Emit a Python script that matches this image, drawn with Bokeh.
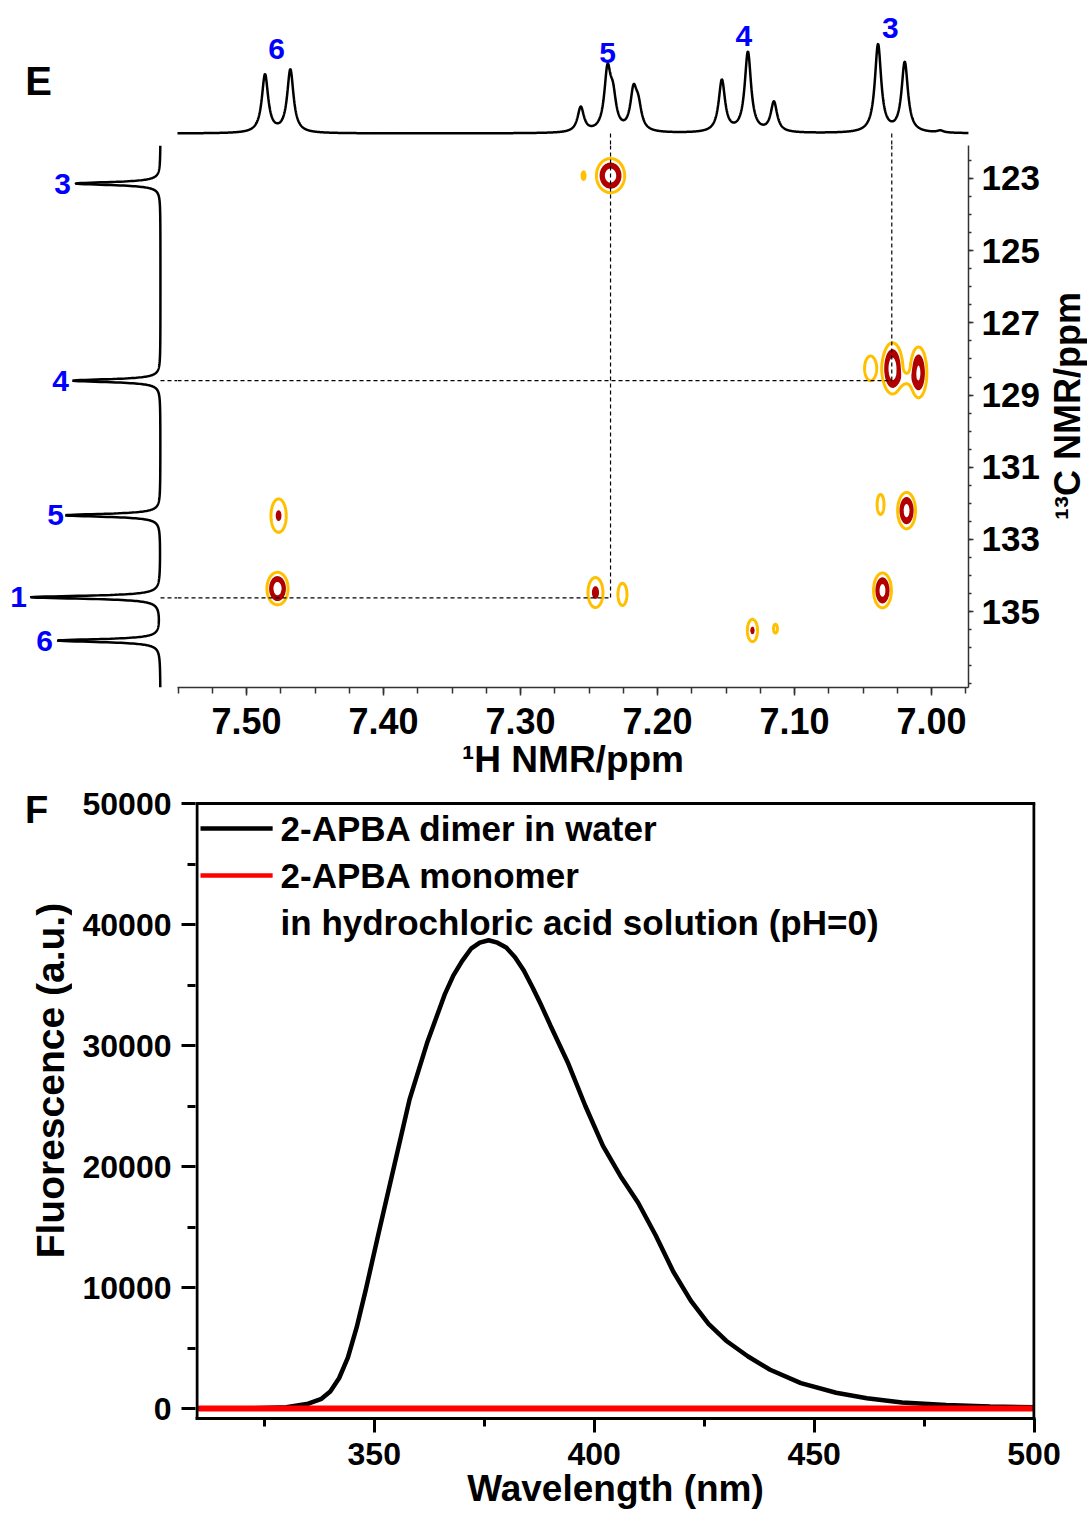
import math
import numpy as np
from bokeh.plotting import figure
from bokeh.layouts import column, row
from bokeh.models import Range1d, FixedTicker, PrintfTickFormatter
from bokeh.core.properties import value
from bokeh.embed import file_html
from bokeh.resources import INLINE

FONT = "Liberation Sans"
BLUE = "#0000FF"
ORANGE = "#FFC000"
DRED = "#B00000"

# ---------------- Panel E data ----------------
# 1H projection (top trace): peak positions (ppm) and heights (a.u.)
h1_peak_ppm = [7.4865, 7.4680, 7.2560, 7.2365, 7.2325, 7.2175, 7.2140,
               7.1530, 7.1340, 7.1150, 7.0390, 7.0195, 6.9935]
h1_peak_int = [58, 63, 25, 58, 30, 38, 22, 52, 80, 30, 88, 70, 2]
h1_label_text = ["6", "5", "4", "3"]
h1_label_ppm = [7.478, 7.2365, 7.137, 7.030]
h1_label_int = [85, 81, 98, 106]

# 13C projection (left trace)
c13_peak_ppm = [123.14, 128.60, 132.33, 134.60, 135.80]
c13_peak_int = [85, 88, 95, 130, 103]
c13_label_text = ["3", "4", "5", "1", "6"]
c13_label_int = [98, 100, 105, 142, 116]

# 2D cross peaks (1H ppm, 13C ppm, relative intensity, widths in ppm)
cross_h = [7.2343, 7.2540, 7.0285, 7.0095, 7.0445, 7.0190, 7.4766, 7.0372,
           7.0182, 7.4774, 7.2453, 7.2256, 7.0358, 7.1307, 7.1139]
cross_c = [122.92, 122.92, 128.26, 128.37, 128.26, 128.55, 132.34, 132.03,
           132.20, 134.36, 134.47, 134.52, 134.41, 135.52, 135.47]
cross_amp = [1.00, 0.12, 1.00, 0.75, 0.20, 0.13, 0.33, 0.15,
             0.90, 1.00, 0.36, 0.17, 0.90, 0.33, 0.12]
cross_sh = [0.0048, 0.0018, 0.0035, 0.0030, 0.0037, 0.0060, 0.0036, 0.0028,
            0.0031, 0.0036, 0.0034, 0.0032, 0.0031, 0.0024, 0.0024]
cross_sc = [0.22, 0.18, 0.33, 0.35, 0.29, 0.15, 0.30, 0.31,
            0.24, 0.21, 0.26, 0.30, 0.23, 0.20, 0.21]

# correlation guides (1H ppm, 13C ppm)
guide_h = [7.2343, 7.0290]
guide_c = [134.62, 128.60]

h1_ticks = [7.50, 7.40, 7.30, 7.20, 7.10, 7.00]
c13_ticks = [123, 125, 127, 129, 131, 133, 135]

# ---------------- Panel F data ----------------
wavelength = [310, 320, 330, 335, 338, 340, 342, 344, 346, 348, 351, 354.5, 358, 362, 366, 368, 370,
              372, 374, 376, 378, 380, 382, 384, 386, 388, 390, 394, 398, 402, 406, 410, 414, 418,
              422, 426, 430, 435, 440, 447, 455, 462, 470, 480, 490, 500]
dimer_water = [0, 0, 100, 400, 800, 1400, 2500, 4200, 6700, 9700, 14500, 20000, 25500, 30200, 34200, 35800, 37000,
               38000, 38500, 38700, 38500, 38100, 37300, 36200, 34800, 33300, 31700, 28600, 25000, 21700, 19200, 17000, 14300, 11300,
               8900, 7000, 5600, 4300, 3200, 2100, 1300, 850, 500, 280, 160, 100]
wavelength_mono = [310, 350, 400, 450, 500]
monomer_hcl = [0, 0, 0, 0, 0]
legend_text = ["2-APBA dimer in water", "2-APBA monomer", "in hydrochloric acid solution (pH=0)"]
legend_color = ["black", "#FF0000"]
wl_ticks = [350, 400, 450, 500]
wl_minor = [325, 375, 425, 475]
fl_ticks = [0, 10000, 20000, 30000, 40000, 50000]
fl_minor = [5000, 15000, 25000, 35000, 45000]


def style_axis(ax, tick_font, label_font, color, lw):
    ax.axis_line_color = color
    ax.axis_line_width = lw
    ax.major_tick_line_color = color
    ax.minor_tick_line_color = color
    ax.major_tick_line_width = lw
    ax.minor_tick_line_width = lw
    ax.major_tick_in = 0
    ax.minor_tick_in = 0
    ax.major_label_text_font = FONT
    ax.major_label_text_font_style = "bold"
    ax.major_label_text_font_size = tick_font
    ax.major_label_text_color = "black"
    ax.axis_label_text_font = FONT
    ax.axis_label_text_font_style = "bold"
    ax.axis_label_text_font_size = label_font
    ax.axis_label_text_color = "black"


# ---------------- Panel E figures ----------------
XH = (7.5504, 6.9730)          # 1H window of the 2D map
YC = (137.10, 122.086)         # 13C window (reversed)
H1_HWHM = 0.0028
C13_HWHM = 0.05
MID_H = 640
MID_BB = 98

yc_range = Range1d(YC[0], YC[1])

p_top = figure(width=1087, height=145, x_range=Range1d(7.6796, 6.8861), y_range=Range1d(-12, 133),
               output_backend="svg", toolbar_location=None, x_axis_location=None, y_axis_location=None,
               min_border=0, outline_line_color=None)
p_top.grid.visible = False
hx = np.linspace(XH[1], XH[0], 2900)
h_trace = np.zeros_like(hx)
for ppm, inten in zip(h1_peak_ppm, h1_peak_int):
    h_trace += inten / (1 + ((hx - ppm) / H1_HWHM) ** 2)
p_top.line(hx, h_trace, line_color="black", line_width=2.5)
p_top.text(x=h1_label_ppm, y=h1_label_int, text=h1_label_text, text_color=BLUE,
           text_font=value(FONT), text_font_style="bold", text_font_size="30px",
           text_align="center", text_baseline="middle")
p_top.text(x=[7.6518], y=[53], text=["E"], text_color="black", text_font=value(FONT),
           text_font_style="bold", text_font_size="40px", text_align="center", text_baseline="middle")
p_top.segment(x0=guide_h, y0=[0] * len(guide_h), x1=guide_h, y1=[-12] * len(guide_h),
              line_dash="4 3", line_color="black", line_width=1.2)

p_left = figure(width=177, height=MID_H, x_range=Range1d(160, -17), y_range=yc_range,
                output_backend="svg", toolbar_location=None, x_axis_location=None, y_axis_location=None,
                min_border_left=0, min_border_right=0, min_border_top=0, min_border_bottom=MID_BB,
                outline_line_color=None)
p_left.grid.visible = False
cy = np.linspace(YC[1], YC[0], 3000)
c_trace = np.zeros_like(cy)
for ppm, inten in zip(c13_peak_ppm, c13_peak_int):
    c_trace += inten / (1 + ((cy - ppm) / C13_HWHM) ** 2)
p_left.line(c_trace, cy, line_color="black", line_width=2.5)
p_left.text(x=c13_label_int, y=c13_peak_ppm, text=c13_label_text, text_color=BLUE,
            text_font=value(FONT), text_font_style="bold", text_font_size="30px",
            text_align="center", text_baseline="middle")
p_left.segment(x0=[0] * len(guide_c), y0=guide_c, x1=[-17] * len(guide_c), y1=guide_c,
               line_dash="4 3", line_color="black", line_width=1.2)

p_main = figure(width=869, height=MID_H, x_range=Range1d(XH[0], XH[1]), y_range=yc_range,
                output_backend="svg", toolbar_location=None, x_axis_location="below", y_axis_location="right",
                min_border_left=0, min_border_right=78, min_border_top=0, min_border_bottom=MID_BB,
                outline_line_color=None)
p_main.grid.visible = False

gx = np.arange(6.970, 7.553, 0.0007)
gy = np.arange(122.0, 137.2, 0.03)
GX, GY = np.meshgrid(gx, gy)
Z = np.zeros_like(GX)
for h, c, a, sh, sc in zip(cross_h, cross_c, cross_amp, cross_sh, cross_sc):
    Z += a * np.exp(-0.5 * ((GX - h) / sh) ** 2 - 0.5 * ((GY - c) / sc) ** 2)
levels = [0.1, 0.3, 0.62, 100.0]
p_main.contour(gx, gy, Z, levels,
               fill_color=[ORANGE, DRED, "white"], fill_alpha=[0.0, 1.0, 0.0],
               line_color=[ORANGE, DRED, DRED, DRED], line_alpha=[1.0, 1.0, 1.0, 0.0],
               line_width=[3.0, 1.5, 1.5, 0.0])
p_main.segment(x0=guide_h, y0=[YC[1]] * len(guide_h), x1=guide_h, y1=guide_c,
               line_dash="4 3", line_color="black", line_width=1.2)
p_main.segment(x0=[XH[0]] * len(guide_h), y0=guide_c, x1=guide_h, y1=guide_c,
               line_dash="4 3", line_color="black", line_width=1.2)

xa = p_main.xaxis[0]
xa.ticker = FixedTicker(ticks=h1_ticks, minor_ticks=[round(7.55 - 0.025 * i, 3) for i in range(24)])
xa.formatter = PrintfTickFormatter(format="%.2f")
xa.axis_label = "¹H NMR/ppm"
style_axis(xa, "36px", "37px", "#333333", 1.5)
xa.major_tick_out = 8
xa.minor_tick_out = 6
xa.major_label_standoff = 12
xa.axis_label_standoff = 2
ya = p_main.yaxis[0]
ya.ticker = FixedTicker(ticks=c13_ticks, minor_ticks=[122 + 0.5 * i for i in range(31)])
style_axis(ya, "35px", "36px", "#333333", 1.5)
ya.major_tick_out = 5
ya.minor_tick_out = 3
ya.major_label_standoff = 8

# right-hand 13C axis title
p_r = figure(width=41, height=MID_H, x_range=Range1d(0, 41), y_range=yc_range,
             output_backend="svg", toolbar_location=None, x_axis_location=None, y_axis_location=None,
             min_border_left=0, min_border_right=0, min_border_top=0, min_border_bottom=MID_BB,
             outline_line_color=None)
p_r.grid.visible = False
p_r.text(x=[21], y=[129.3], text=["¹³C NMR/ppm"], angle=math.pi / 2, text_font=value(FONT),
         text_font_style="bold", text_font_size="36px", text_align="center", text_baseline="middle",
         text_color="black")

# ---------------- Panel F figures ----------------
fy_range = Range1d(-826, 51488)
XL, XR = 309.36, 500.34
p_bot = figure(width=1015, height=729, x_range=Range1d(XL, XR), y_range=fy_range,
               output_backend="svg", toolbar_location=None,
               min_border_left=123, min_border_right=52, min_border_top=0, min_border_bottom=96,
               outline_line_color=None)
p_bot.grid.visible = False
r_dimer = p_bot.line(wavelength, dimer_water, line_color="black", line_width=4.5)
r_mono = p_bot.line(wavelength_mono, monomer_hcl, line_color="#FF0000", line_width=6)

# box edges (left, top, right)
p_bot.segment(x0=[309.70, XL, 500.0], y0=[-826, 50000, -826], x1=[309.70, XR, 500.0], y1=[50000, 50000, 50000],
              line_color="black", line_width=3)

# legend (drawn as marks + text)
leg_y = [47934, 44049, 40165]
p_bot.segment(x0=[310.5, 310.5], y0=leg_y[:2], x1=[326.9, 326.9], y1=leg_y[:2],
              line_color=legend_color, line_width=4.5)
p_bot.text(x=[328.7] * 3, y=leg_y, text=legend_text, text_font=value(FONT), text_font_style="bold",
           text_font_size="35px", text_align="left", text_baseline="middle", text_color="black")

bx = p_bot.xaxis[0]
bx.ticker = FixedTicker(ticks=wl_ticks, minor_ticks=wl_minor)
bx.axis_label = "Wavelength (nm)"
style_axis(bx, "32px", "37px", "black", 3)
bx.major_tick_out = 14
bx.minor_tick_out = 8
bx.major_label_standoff = 10
bx.axis_label_standoff = 0
by = p_bot.yaxis[0]
by.ticker = FixedTicker(ticks=fl_ticks, minor_ticks=fl_minor)
by.formatter = PrintfTickFormatter(format="%d")
style_axis(by, "32px", "37px", "black", 3)
by.axis_line_color = None
by.major_tick_out = 14
by.minor_tick_out = 8
by.major_label_standoff = 10

# left strip: panel letter and y-axis title
p_f = figure(width=72, height=729, x_range=Range1d(0, 72), y_range=fy_range,
             output_backend="svg", toolbar_location=None, x_axis_location=None, y_axis_location=None,
             min_border_left=0, min_border_right=0, min_border_top=0, min_border_bottom=96,
             outline_line_color=None)
p_f.grid.visible = False
p_f.text(x=[36], y=[49500], text=["F"], text_font=value(FONT), text_font_style="bold",
         text_font_size="38px", text_align="center", text_baseline="middle", text_color="black")
p_f.text(x=[50], y=[27100], text=["Fluorescence (a.u.)"], angle=math.pi / 2, text_font=value(FONT),
         text_font_style="bold", text_font_size="39px", text_align="center", text_baseline="middle",
         text_color="black")

layout = column(row(p_top), row(p_left, p_main, p_r), row(p_f, p_bot))
open("out.html", "w").write(file_html(layout, INLINE))
